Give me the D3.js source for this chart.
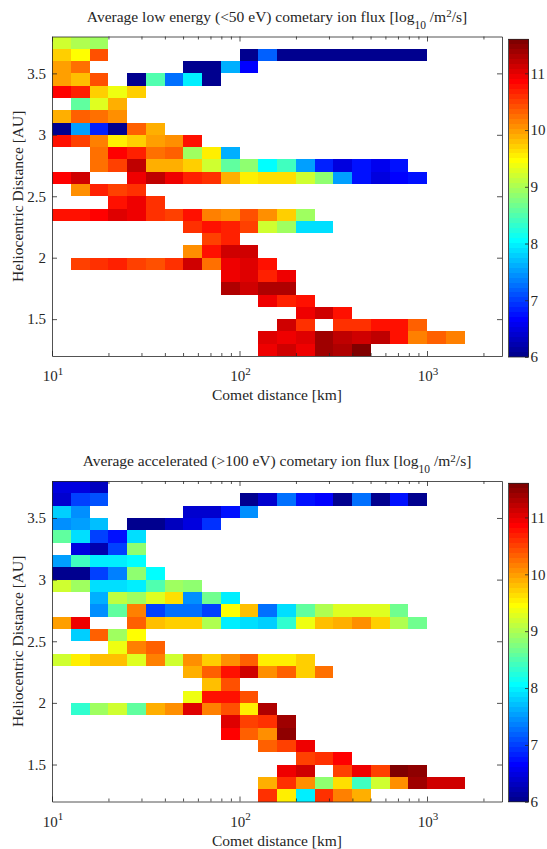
<!DOCTYPE html>
<html><head><meta charset="utf-8">
<script src="https://cdn.jsdelivr.net/npm/d3@7"></script>
<style>
body{margin:0;background:#fff}
svg{display:block}
text{font-family:"Liberation Serif","Times New Roman",serif;fill:#262626}
</style>
</head><body>
<svg id="c" width="547" height="849"></svg>
<script>
const _ = null;
// lower edges of comet-distance bins, log10(km); each bin is 0.1 decade wide
const distanceBinLog10 = [1.0,1.1,1.2,1.3,1.4,1.5,1.6,1.7,1.8,1.9,2.0,2.1,2.2,2.3,2.4,2.5,2.6,2.7,2.8,2.9,3.0,3.1,3.2,3.3];
const distanceBinWidthLog10 = 0.1;
// lower edges of heliocentric-distance bins (AU), top row first; width 0.1 AU
const helioBinAU = [3.7,3.6,3.5,3.4,3.3,3.2,3.1,3.0,2.9,2.8,2.7,2.6,2.5,2.4,2.3,2.2,2.1,2.0,1.9,1.8,1.7,1.6,1.5,1.4,1.3,1.2];
const helioBinWidthAU = 0.1;

// log10 flux, rows follow helioBinAU, columns follow distanceBinLog10
const lowEnergyFlux = [
 [9.2,9.0,8.95],
 [9.7,9.45,10.4,_,_,_,_,_,_,_,6.05,7.2,6.05,6.05,6.05,6.05,6.05,6.05,6.05,6.05],
 [10.0,10.25,_,_,_,_,_,6.05,6.05,7.6,6.65],
 [10.0,9.8,10.4,_,6.05,8.5,7.3,7.95,6.05],
 [10.85,10.7,9.7,9.4,9.7],
 [_,8.6,9.3,9.85],
 [9.9,10.3,10.25,10.05],
 [6.05,7.55,6.85,6.05,10.35,9.9],
 [10.75,10.5,10.2,9.5,9.7,9.95,10.05,10.75],
 [_,_,10.25,10.85,10.7,10.25,10.35,8.95,9.5,7.65],
 [_,_,10.25,10.5,11.2,9.9,9.9,9.7,9.2,8.6,8.8,8.1,8.4,7.55,6.85,6.5,6.75,6.55,6.7],
 [10.85,11.1,_,_,10.9,11.2,10.9,10.7,10.55,9.9,9.5,9.65,9.65,9.2,8.8,7.5,6.75,6.5,6.65,6.7],
 [_,10.1,10.7,10.5,10.6],
 [_,_,_,10.75,10.95,10.55],
 [10.8,10.8,10.85,11.0,10.95,10.6,10.5,10.8,10.2,10.05,10.4,10.1,9.7,8.95],
 [_,_,_,_,_,_,_,10.55,10.75,10.7,10.5,9.2,8.95,7.9,7.9],
 [_,_,_,_,_,_,_,_,10.5,10.7],
 [_,_,_,_,_,_,_,10.05,10.75,11.1,11.1],
 [_,10.5,10.6,10.7,10.5,10.45,10.55,11.1,10.25,10.9,11.0,10.75],
 [_,_,_,_,_,_,_,_,_,10.9,11.0,10.7,10.9],
 [_,_,_,_,_,_,_,_,_,11.25,11.1,11.25,11.25],
 [_,_,_,_,_,_,_,_,_,_,_,10.9,10.7,10.8],
 [_,_,_,_,_,_,_,_,_,_,_,_,_,10.9,11.1,10.8],
 [_,_,_,_,_,_,_,_,_,_,_,_,11.1,10.55,_,10.55,10.55,10.8,10.8,10.35],
 [_,_,_,_,_,_,_,_,_,_,_,11.05,10.9,11.05,11.35,11.2,11.1,11.2,10.8,10.2,10.35,10.15],
 [_,_,_,_,_,_,_,_,_,_,_,10.9,11.1,10.9,11.4,11.25,11.6]
];

const acceleratedFlux = [
 [6.5,6.5,6.35],
 [6.4,7.05,7.1,_,_,_,_,_,_,_,6.05,6.4,7.25,6.7,6.65,6.05,7.25,6.05,6.75,6.05],
 [7.8,7.4,_,_,_,_,_,6.4,6.4,6.75,7.4],
 [7.4,7.55,7.7,_,6.0,6.0,6.35,6.5,6.9],
 [8.6,7.9,7.0,6.7,7.9],
 [_,6.5,6.2,7.05,8.8],
 [7.5,8.45,8.0,8.0,8.1],
 [6.05,6.05,7.05,7.35,8.8,8.1],
 [9.15,8.9,7.9,7.9,7.95,8.5,8.95,8.8],
 [_,_,7.6,9.1,8.9,9.3,9.6,7.4,8.65,7.95],
 [_,_,7.4,8.6,10.2,7.05,7.25,7.3,7.05,9.45,9.8,7.25,7.9,8.6,9.0,9.3,9.3,9.3,8.65],
 [9.95,10.9,_,_,10.3,9.8,9.7,9.7,9.0,7.95,7.9,7.8,8.35,9.35,9.8,9.9,10.1,9.7,9.0,8.65],
 [_,7.8,10.35,8.95,9.45],
 [_,_,_,9.4,10.2,10.35],
 [9.2,9.55,9.8,9.8,9.3,10.2,9.2,10.05,9.7,10.1,10.35,9.55,9.55,9.7],
 [_,_,_,_,_,_,_,9.9,10.35,10.75,11.1,10.05,10.35,9.7,10.25],
 [_,_,_,_,_,_,_,_,9.8,10.45],
 [_,_,_,_,_,_,_,9.35,10.8,10.8,10.4],
 [_,8.35,8.95,9.2,8.6,9.9,10.1,11.05,10.2,10.4,9.5,11.3],
 [_,_,_,_,_,_,_,_,_,11.05,10.5,10.55,11.4],
 [_,_,_,_,_,_,_,_,_,10.85,10.35,10.1,11.45],
 [_,_,_,_,_,_,_,_,_,_,_,10.35,10.5,10.9],
 [_,_,_,_,_,_,_,_,_,_,_,_,_,10.5,10.6,10.85],
 [_,_,_,_,_,_,_,_,_,_,_,_,10.9,11.1,_,10.5,10.9,10.5,11.55,11.45],
 [_,_,_,_,_,_,_,_,_,_,_,9.9,10.55,10.05,8.8,9.65,8.45,9.2,10.1,11.35,11.1,11.1],
 [_,_,_,_,_,_,_,_,_,_,_,10.55,9.55,7.95,10.6,10.2,9.9]
];

const colorLimits = [6, 11.6];
const colorTicks = [6,7,8,9,10,11];
const xMajorExponents = [1,2,3];
const xMinorTicks = [20,30,40,50,60,70,80,90,200,300,400,500,600,700,800,900,2000];
const yTicks = [1.5,2,2.5,3,3.5];
const xDomain = [10, Math.pow(10,3.4)];
const yDomain = [1.2, 3.8];
const titles = [
  ["Average low energy (<50 eV) cometary ion flux [log", "10", " /m", "2", "/s]"],
  ["Average accelerated (>100 eV) cometary ion flux [log", "10", " /m", "2", "/s]"]
];
const xLabel = "Comet distance [km]";
const yLabel = "Heliocentric Distance [AU]";

// MATLAB jet(64)
const jetU = [];
for (let i=1;i<=16;i++) jetU.push(i/16);
for (let i=0;i<15;i++) jetU.push(1);
for (let i=16;i>=1;i--) jetU.push(i/16);
function jetColor(k){ // k = 1..64
  const val = j => (j>=1 && j<=jetU.length) ? jetU[j-1] : 0;
  const c = v => Math.round(255*v);
  return `rgb(${c(val(k-24))},${c(val(k-8))},${c(val(k+8))})`;
}
function colorOf(v){
  const t = (v-colorLimits[0])/(colorLimits[1]-colorLimits[0]);
  const k = Math.max(1, Math.min(64, Math.floor(t*64)+1));
  return jetColor(k);
}

const svg = d3.select('#c');
const axisColor = '#262626';
const L = 52, R = 502;
const cbL = 508.5, cbR = 528.5;
const tickFont = 15, labelFont = 15.5, titleFont = 15.5;
const panels = [
  {top:36.5, bottom:356, data:lowEnergyFlux, title:titles[0], cbTop:39.3, cbBottom:357},
  {top:481, bottom:801.5, data:acceleratedFlux, title:titles[1], cbTop:483.3, cbBottom:801.8}
];

const x = d3.scaleLog().domain(xDomain).range([L, R]);

panels.forEach(p => {
  const y = d3.scaleLinear().domain(yDomain).range([p.bottom, p.top]);
  const g = svg.append('g');

  // cells
  const cells = [];
  p.data.forEach((row, ri) => {
    row.forEach((v, ci) => {
      if (v === null || v === undefined) return;
      cells.push({lo: distanceBinLog10[ci], h: helioBinAU[ri], v});
    });
  });
  g.append('g').attr('shape-rendering','crispEdges')
    .selectAll('rect').data(cells).join('rect')
    .attr('x', d => x(Math.pow(10, d.lo)))
    .attr('width', d => x(Math.pow(10, d.lo + distanceBinWidthLog10)) - x(Math.pow(10, d.lo)))
    .attr('y', d => y(d.h + helioBinWidthAU))
    .attr('height', d => y(d.h) - y(d.h + helioBinWidthAU))
    .attr('fill', d => colorOf(d.v));

  // axes
  const styleAxis = sel => {
    sel.selectAll('path.domain').attr('stroke', axisColor).attr('stroke-width', 0.8);
    sel.selectAll('.tick line').attr('stroke', axisColor).attr('stroke-width', 0.8);
  };
  const majors = xMajorExponents.map(e => Math.pow(10, e));
  g.append('g').attr('transform', `translate(0,${p.bottom})`)
    .call(d3.axisBottom(x).tickValues(majors).tickSize(-5).tickSizeOuter(0).tickFormat(''))
    .call(styleAxis);
  g.append('g').attr('transform', `translate(0,${p.bottom})`)
    .call(d3.axisBottom(x).tickValues(xMinorTicks).tickSize(-3).tickSizeOuter(0).tickFormat(''))
    .call(s => s.select('path.domain').remove()).call(styleAxis);
  g.append('g').attr('transform', `translate(0,${p.top})`)
    .call(d3.axisTop(x).tickValues(majors).tickSize(-5).tickSizeOuter(0).tickFormat(''))
    .call(styleAxis);
  g.append('g').attr('transform', `translate(0,${p.top})`)
    .call(d3.axisTop(x).tickValues(xMinorTicks).tickSize(-3).tickSizeOuter(0).tickFormat(''))
    .call(s => s.select('path.domain').remove()).call(styleAxis);
  const ly = g.append('g').attr('transform', `translate(${L},0)`)
    .call(d3.axisLeft(y).tickValues(yTicks).tickSize(-5).tickSizeOuter(0).tickPadding(6).tickFormat(d => String(d)))
    .call(styleAxis);
  ly.attr('font-family', null);
  ly.selectAll('text').attr('font-size', tickFont).attr('fill', axisColor);
  g.append('g').attr('transform', `translate(${R},0)`)
    .call(d3.axisRight(y).tickValues(yTicks).tickSize(-5).tickSizeOuter(0).tickFormat(''))
    .call(styleAxis);

  // x tick labels 10^n
  xMajorExponents.forEach(e => {
    const t = g.append('text').attr('x', x(Math.pow(10, e)) + 1).attr('y', p.bottom + 25.3)
      .attr('text-anchor', 'middle').attr('font-size', tickFont);
    t.append('tspan').text('10');
    t.append('tspan').attr('dy', -6.5).attr('font-size', 11).text(String(e));
  });

  // x label
  g.append('text').attr('x', (L + R) / 2).attr('y', p.bottom + 44)
    .attr('text-anchor', 'middle').attr('font-size', labelFont).text(xLabel);
  // y label
  g.append('text').attr('transform', `translate(22.5,${(p.top + p.bottom) / 2}) rotate(-90)`)
    .attr('text-anchor', 'middle').attr('font-size', labelFont).text(yLabel);

  // title
  const tt = g.append('text').attr('x', (L + R) / 2).attr('y', p.top - 14.8)
    .attr('text-anchor', 'middle').attr('font-size', titleFont);
  tt.append('tspan').text(p.title[0]);
  tt.append('tspan').attr('dy', 7).attr('font-size', 11.5).text(p.title[1]);
  tt.append('tspan').attr('dy', -7).text(p.title[2]);
  tt.append('tspan').attr('dy', -4.5).attr('font-size', 11).text(p.title[3]);
  tt.append('tspan').attr('dy', 4.5).text(p.title[4]);

  // colorbar
  const cy = d3.scaleLinear().domain(colorLimits).range([p.cbBottom, p.cbTop]);
  const levels = d3.range(64);
  const step = (colorLimits[1] - colorLimits[0]) / 64;
  g.append('g').attr('shape-rendering','crispEdges').selectAll('rect').data(levels).join('rect')
    .attr('x', cbL).attr('width', cbR - cbL)
    .attr('y', k => cy(colorLimits[0] + (k + 1) * step))
    .attr('height', k => cy(colorLimits[0] + k * step) - cy(colorLimits[0] + (k + 1) * step))
    .attr('fill', k => jetColor(k + 1));
  const cbAxis = g.append('g').attr('transform', `translate(${cbR},0)`)
    .call(d3.axisRight(cy).tickValues(colorTicks).tickSize(-3.5).tickSizeOuter(0).tickPadding(2).tickFormat(d => String(d)))
    .call(styleAxis);
  cbAxis.attr('font-family', null);
  cbAxis.selectAll('text').attr('font-size', tickFont).attr('fill', axisColor);
  cbAxis.select('path.domain').remove();
  g.append('rect').attr('x', cbL).attr('y', p.cbTop).attr('width', cbR - cbL).attr('height', p.cbBottom - p.cbTop)
    .attr('fill', 'none').attr('stroke', axisColor).attr('stroke-width', 0.8);
});
</script>
</body></html>
